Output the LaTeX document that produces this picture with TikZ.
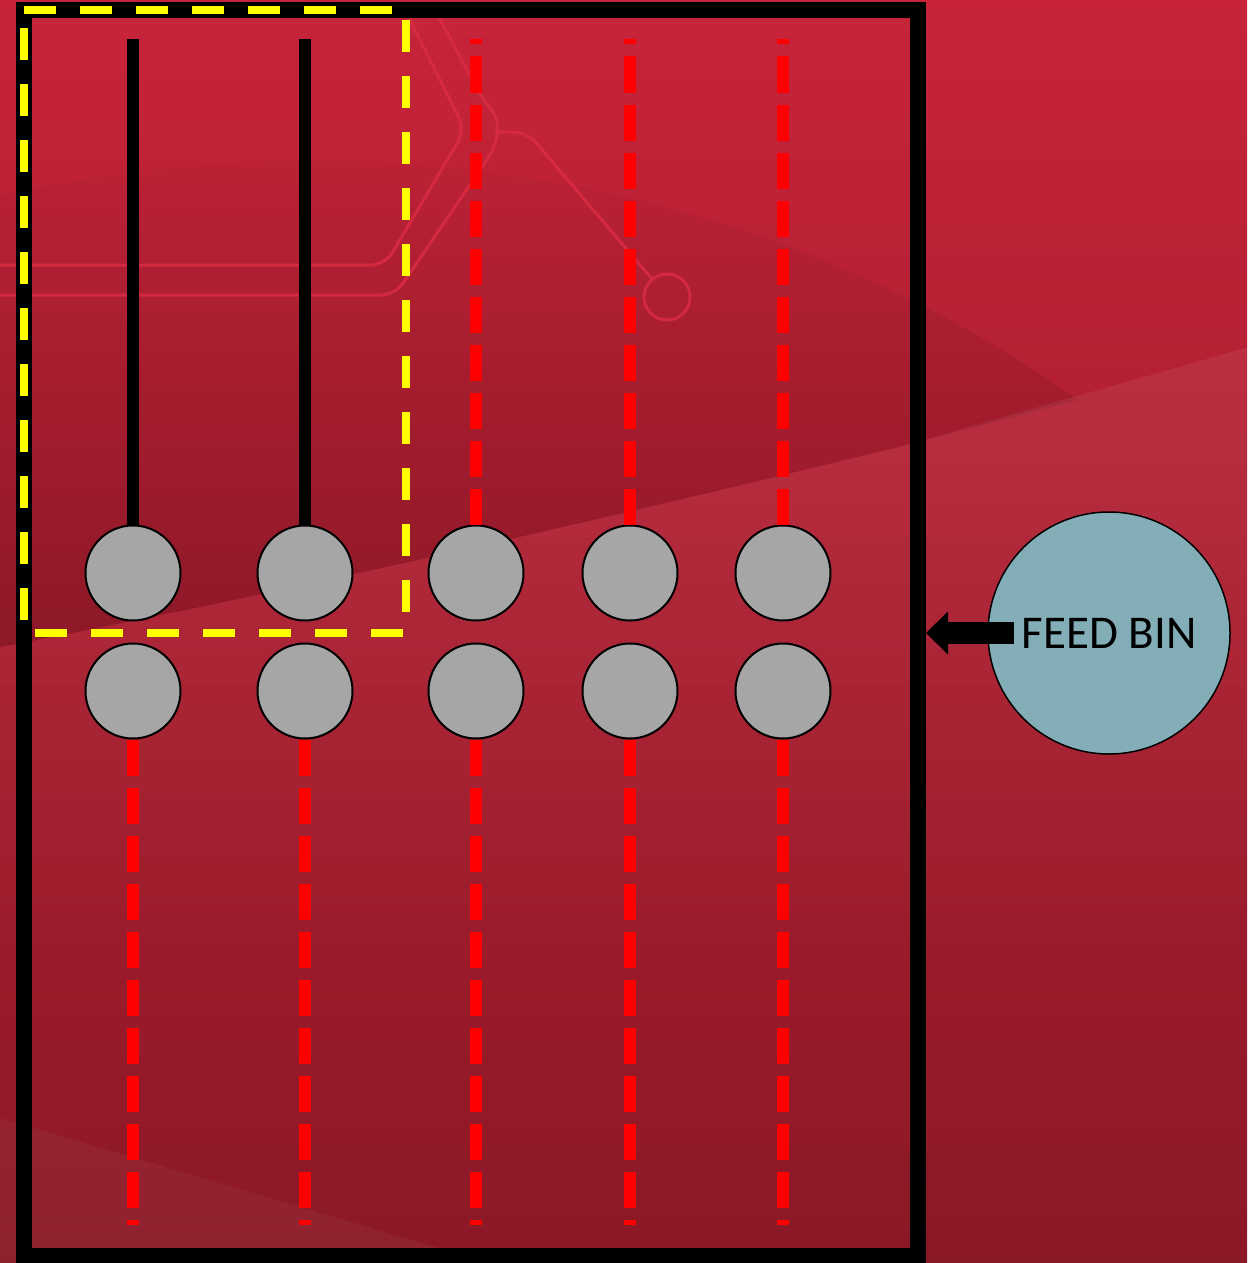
\documentclass[tikz,border=0pt]{standalone}
\usepackage{fontspec}
\setmainfont{Carlito}
\usetikzlibrary{arrows.meta,fadings}

\definecolor{slidered}{HTML}{C8243A}
\definecolor{slidedark}{HTML}{8A1826}
\definecolor{traceline}{HTML}{DC2C45}
\definecolor{ballgray}{HTML}{A6A6A6}
\definecolor{binblue}{HTML}{84AEB7}
\definecolor{guideyellow}{HTML}{FFFF00}

\begin{document}
\begin{tikzpicture}[x=1pt,y=-1pt,
  ball/.style={circle, draw=black, line width=2pt, fill=ballgray, minimum size=95pt, inner sep=0pt},
  rod/.style={black, line width=12pt},
  redrod/.style={red, line width=12pt, dash pattern=on 36pt off 12pt},
  circuit/.style={traceline, opacity=0.8, line width=3pt, rounded corners=14pt}]

\useasboundingbox (0,0) rectangle (1247,1263);

% Slide background
\begin{scope}
\clip (0,0) rectangle (1247,1263);
\shade[top color=slidered, bottom color=slidedark] (-20,-20) rectangle (1267,1283);
\fill[black, opacity=0.16, path fading=north] (-20,200) .. controls (400,100) and (800,200) .. (1080,400)
  -- (900,447) .. controls (600,520) and (300,590) .. (-20,651) -- cycle;
\fill[white, opacity=0.07, path fading=south] (-20,651) .. controls (300,590) and (600,520) .. (900,447)
  -- (1300,333) -- (1300,1000) -- (-20,1000) -- cycle;
\fill[white, opacity=0.04] (-20,1112) -- (580,1290) -- (-20,1290) -- cycle;
\end{scope}

% Circuit traces
\draw[circuit] (0,265) -- (385,265) -- (465,130) -- (405,10);
\draw[circuit] (0,295) -- (395,295) -- (480,170) .. controls (500,140) and (500,120) .. (483,100) -- (435,10);
\draw[circuit] (495,132) -- (527,132) -- (652,279);
\draw[circuit] (667,297) circle (23);

% Hopper frame
\node[draw=black, line width=16pt, minimum width=894pt, minimum height=1246pt, inner sep=0pt] (hopper) at (471,633) {};

% Balls, two rows
\foreach \i/\x in {1/133,2/305,3/476,4/630,5/783} {
  \node[ball] (up\i) at (\x,573) {};
  \node[ball] (low\i) at (\x,691) {};
  \coordinate (top\i) at (\x,39);
  \coordinate (foot\i) at (\x,1225);
}

% Rods above
\draw[rod] (up1) -- (top1);
\draw[rod] (up2) -- (top2);
\foreach \i in {3,4,5} \draw[redrod] (up\i) -- (top\i);

% Rods below
\foreach \i in {1,...,5} \draw[redrod] (low\i) -- (foot\i);

% Selected region
\draw[guideyellow, line width=8pt, dash pattern=on 32pt off 24pt]
  (24,10) -- (406,10) -- (406,633) -- (24,633) -- cycle;

% Feed bin
\node[circle, draw=black, line width=1.5pt, fill=binblue, minimum size=242pt, inner sep=0pt,
      font=\fontsize{47}{56}\selectfont] (bin) at (1109,633) {FEED BIN};
\coordinate (feedstart) at (1014,633);
\draw[line width=22pt, -{Triangle[length=22pt, width=43pt, line width=0pt]}]
  (feedstart) -- (hopper.east |- feedstart);

\end{tikzpicture}
\end{document}
